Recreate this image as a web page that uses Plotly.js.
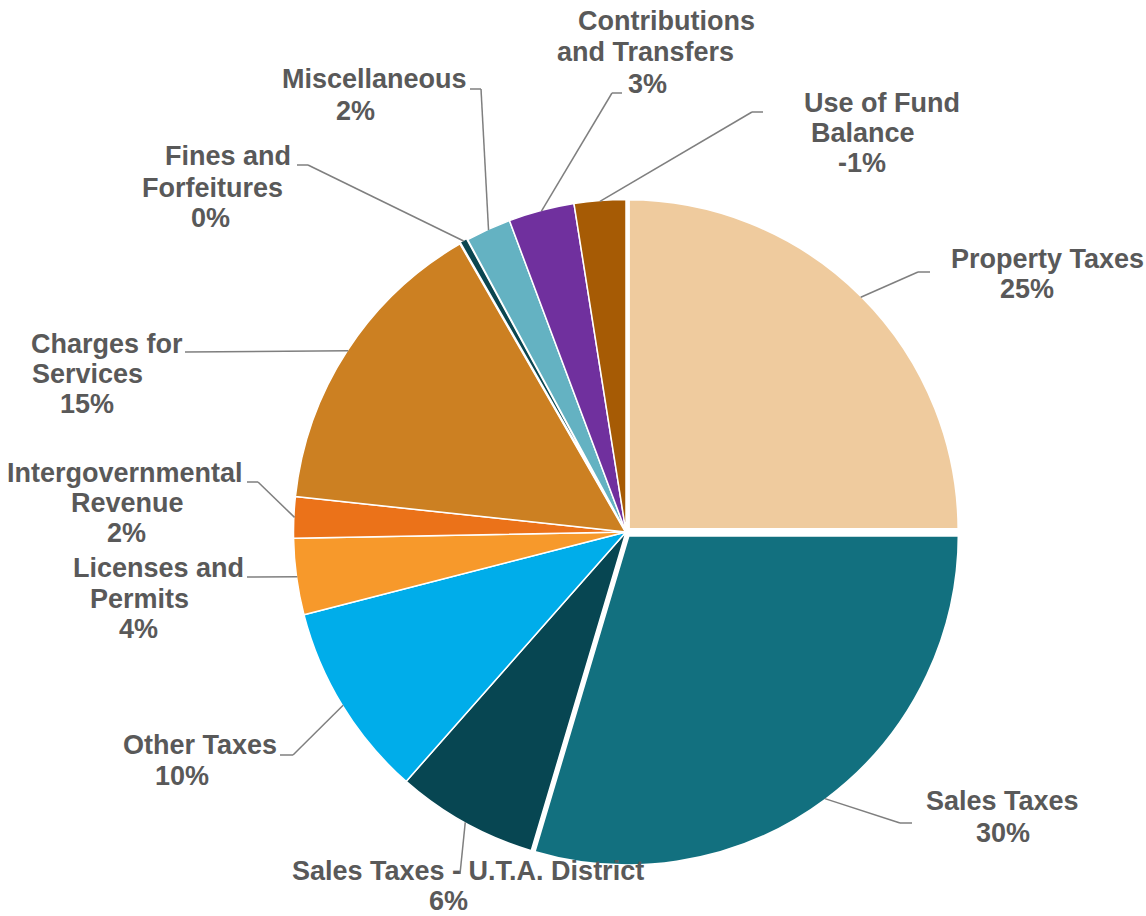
<!DOCTYPE html>
<html>
<head>
<meta charset="utf-8">
<script src="https://cdn.plot.ly/plotly-3.0.1.min.js"></script>
<style>html,body{margin:0;padding:0;background:#fff;}#chart{width:1146px;height:916px;}</style>
</head>
<body>
<div id="chart"></div>
<script>
// ---- data ----
const categories = ['Property Taxes', 'Sales Taxes', 'Sales Taxes - U.T.A. District', 'Other Taxes',
  'Licenses and Permits', 'Intergovernmental Revenue', 'Charges for Services', 'Fines and Forfeitures',
  'Miscellaneous', 'Contributions and Transfers', 'Use of Fund Balance'];
const values = [25.0, 29.6, 6.9, 9.5, 3.7, 2.0, 15.0, 0.4, 2.2, 3.2, 2.5];
const pctLabels = ['25%', '30%', '6%', '10%', '4%', '2%', '15%', '0%', '2%', '3%', '-1%'];
const labelLines = [['Property Taxes'], ['Sales Taxes'], ['Sales Taxes - U.T.A. District'], ['Other Taxes'],
  ['Licenses and', 'Permits'], ['Intergovernmental', 'Revenue'], ['Charges for', 'Services'],
  ['Fines and', 'Forfeitures'], ['Miscellaneous'], ['Contributions', 'and Transfers'], ['Use of Fund', 'Balance']];

// ---- styles / layout ----
const colors = ['#EFCB9E', '#12707F', '#074652', '#00ADEA', '#F7992B', '#EB7219', '#CC8022',
  '#0B4650', '#64B2C2', '#70309E', '#A65B05'];
const pulls = [0.006, 0.008, 0, 0, 0, 0, 0, 0.006, 0, 0, 0];
const borderW = [5, 5, 1.5, 1.5, 1.5, 1.5, 1.5, 2.5, 1.5, 1.5, 1.5];
const W = 1146, H = 916;
const pieCx = 626, pieCy = 532, pieR = 332.5;
// label line positions [centerX, baseline] in px (name lines then percent line)
const labelPos = [
  [[1047, 268], [1027, 298]],
  [[1002, 810], [1003, 842]],
  [[468, 880], [448, 910]],
  [[200, 754], [182, 785]],
  [[158, 577], [139, 608], [138, 638]],
  [[125, 482], [127, 512], [126, 542]],
  [[107, 353], [87, 383], [87, 413]],
  [[228, 165], [212, 197], [210, 227]],
  [[374, 88], [355, 120]],
  [[666, 30], [646, 61], [647, 93]],
  [[882, 112], [863, 142], [862, 172]]
];
// leader elbow and end points in px
const leaders = [
  [[918, 272], [930, 272]],
  [[900, 823], [912, 823]],
  [[460, 874], [460, 874]],
  [[293, 755], [280, 755]],
  [[247, 577], [247, 577]],
  [[258, 482], [247, 482]],
  [[185, 352], [185, 352]],
  [[308, 165], [297, 165]],
  [[481, 89], [470, 89]],
  [[612, 93], [622, 93]],
  [[752, 112], [763, 112]]
];

// pie domain so that Plotly's geometry gives the wanted center/radius
const maxPull = Math.max(...pulls);
const half = pieR * (1 + maxPull);
const domX = [(pieCx - half) / W, (pieCx + half) / W];
const domY = [(H - pieCy - half) / H, (H - pieCy + half) / H];
const boxW = W * (domX[1] - domX[0]), boxH = H * (domY[1] - domY[0]);
const r = Math.min(boxW, boxH) / (2 * (1 + maxPull));
const cx = W * (domX[0] + domX[1]) / 2;
const cy = H * (1 - (domY[0] + domY[1]) / 2);
const total = values.reduce((a, b) => a + b, 0);

const px2x = p => p / W, py2y = p => 1 - p / H;
const shapes = [], annotations = [];
const lineStyle = {color: '#7F7F7F', width: 1.5};
const font = {family: 'Liberation Sans, Arial, sans-serif', size: 27, color: '#595959', weight: 700};
let cum = 0;
values.forEach((v, i) => {
  const mid = (cum + v / 2) / total * 2 * Math.PI;
  cum += v;
  const R = r * (1 + pulls[i]) - borderW[i] / 2;
  const ex = cx + R * Math.sin(mid), ey = cy - R * Math.cos(mid);
  const [elb, end] = leaders[i];
  shapes.push({type: 'line', xref: 'paper', yref: 'paper', x0: px2x(ex), y0: py2y(ey),
    x1: px2x(elb[0]), y1: py2y(elb[1]), line: lineStyle});
  if (end[0] !== elb[0] || end[1] !== elb[1]) {
    shapes.push({type: 'line', xref: 'paper', yref: 'paper', x0: px2x(elb[0]), y0: py2y(elb[1]),
      x1: px2x(end[0]), y1: py2y(end[1]), line: lineStyle});
  }
  const lines = labelLines[i].concat([pctLabels[i]]);
  lines.forEach((t, k) => {
    const [lx, lb] = labelPos[i][k];
    annotations.push({text: t, x: px2x(lx), y: py2y(lb - 9), xref: 'paper', yref: 'paper',
      xanchor: 'center', yanchor: 'middle', showarrow: false, font: font, borderpad: 0});
  });
});

const trace = {
  type: 'pie',
  labels: categories,
  values: values,
  sort: false,
  direction: 'clockwise',
  rotation: 0,
  pull: pulls,
  textposition: 'none',
  hoverinfo: 'label+percent',
  marker: {colors: colors, line: {color: '#FFFFFF', width: borderW}},
  domain: {x: domX, y: domY}
};

const layout = {
  width: W, height: H,
  margin: {l: 0, r: 0, t: 0, b: 0},
  showlegend: false,
  paper_bgcolor: '#FFFFFF',
  shapes: shapes,
  annotations: annotations
};

Plotly.newPlot('chart', [trace], layout, {displayModeBar: false});
</script>
</body>
</html>
